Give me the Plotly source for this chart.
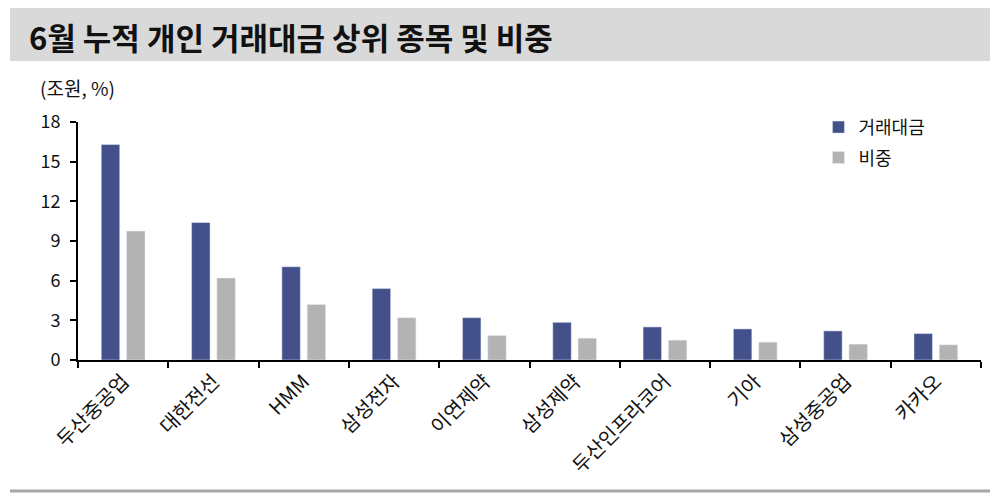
import plotly.graph_objects as go

stocks = ['두산중공업', '대한전선', 'HMM', '삼성전자', '이연제약',
          '삼성제약', '두산인프라코어', '기아', '삼성중공업', '카카오']
amount = [16.3, 10.4, 7.05, 5.4, 3.2, 2.85, 2.5, 2.35, 2.2, 2.0]   # 거래대금 (조원)
share = [9.75, 6.2, 4.2, 3.2, 1.85, 1.65, 1.5, 1.35, 1.2, 1.15]    # 비중 (%)
y_ticks = [0, 3, 6, 9, 12, 15, 18]

font_kr = 'Noto Sans CJK KR'

fig = go.Figure()
fig.add_trace(go.Bar(x=stocks, y=amount, name='거래대금', marker_color='#43508a',
                     legendgroup='a'))
fig.add_trace(go.Bar(x=stocks, y=share, name='비중', marker_color='#b3b3b3',
                     legendgroup='b'))

# page body has an 8px margin, so the figure is a bit smaller than the window
fig.update_layout(
    width=990, height=488,
    margin=dict(l=70, r=17, t=114, b=136),
    paper_bgcolor='white', plot_bgcolor='white',
    font=dict(family=font_kr, size=18, color='#111111'),
    barmode='group', bargap=0.44, bargroupgap=0.27,
    showlegend=True,
    legend=dict(x=0.82, y=1.055, xanchor='left', yanchor='top',
                bgcolor='rgba(0,0,0,0)', font=dict(size=18),
                itemwidth=30, traceorder='grouped', tracegroupgap=4),
    shapes=[
        dict(type='rect', xref='paper', yref='paper',
             x0=-0.0753, x1=1.02, y0=1.256, y1=1.479,
             fillcolor='#d9d9d9', line_width=0, layer='below'),
        dict(type='line', xref='paper', yref='paper',
             x0=-0.0753, x1=1.02, y0=-0.55, y1=-0.55,
             line=dict(color='#a6a6a6', width=3)),
    ],
    annotations=[
        dict(text='<b>6월 누적 개인 거래대금 상위 종목 및 비중</b>',
             xref='paper', yref='paper', x=-0.0565, y=1.36,
             xanchor='left', yanchor='middle', showarrow=False,
             font=dict(size=31, color='#111111', family=font_kr)),
        dict(text='(조원, %)', xref='paper', yref='paper', x=-0.0443, y=1.143,
             xanchor='left', yanchor='middle', showarrow=False,
             font=dict(size=19, color='#111111', family=font_kr)),
    ],
)

fig.update_xaxes(
    type='category', tickangle=-45, tickson='boundaries',
    ticks='outside', ticklen=6, tickwidth=2, tickcolor='black',
    showline=True, linecolor='black', linewidth=2,
    showgrid=False, tickfont=dict(size=20),
)
fig.update_yaxes(
    range=[0, 18], tickvals=y_ticks,
    ticks='outside', ticklen=6, tickwidth=2, tickcolor='black',
    showline=True, linecolor='black', linewidth=2, ticklabelstandoff=6,
    showgrid=False, zeroline=False, tickfont=dict(size=18),
)

fig.write_html('out.html')
